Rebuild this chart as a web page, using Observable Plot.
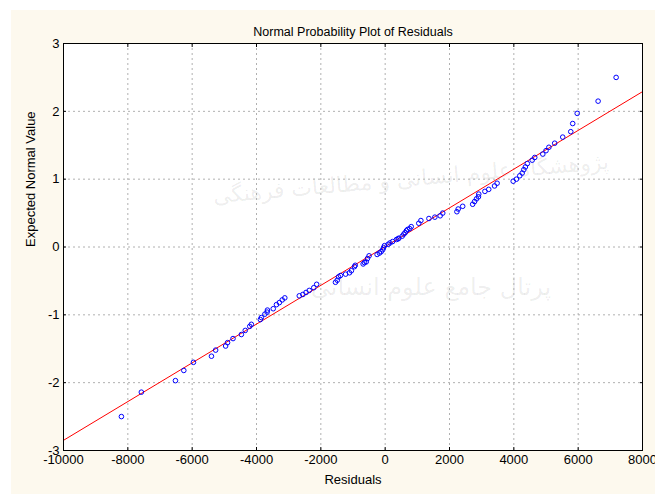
<!DOCTYPE html>
<html>
<head>
<meta charset="utf-8">
<script src="https://cdn.jsdelivr.net/npm/d3@7"></script>
<script src="https://cdn.jsdelivr.net/npm/@observablehq/plot@0.6"></script>
<style>
  html, body { margin: 0; padding: 0; background: #ffffff; }
  #wrap { position: absolute; left: 0; top: 0; width: 655px; height: 494px; overflow: hidden; }
  #cream { position: absolute; left: 11px; top: 10px; width: 644px; height: 484px; background: #fdf9ee; }
  #chart { position: absolute; left: 0; top: 0; }
  #chart svg { font-family: "Liberation Sans", Arial, sans-serif; }
</style>
</head>
<body>
<div id="wrap"><div id="cream"></div><div id="chart"></div></div>
<script>
// Residuals (x) and expected normal values (y)
const residuals = [
  -8200, -7580, -6520, -6260, -5960, -5400, -5270, -4960, -4900, -4730,
  -4470, -4350, -4210, -4160, -3880, -3850, -3740, -3670, -3660, -3480,
  -3380, -3290, -3200, -3120, -2670, -2560, -2460, -2360, -2220, -2130,
  -1545, -1490, -1450, -1390, -1230, -1110, -1050, -955, -930, -685,
  -645, -590, -550, -500, -250, -180, -125, -75, -50, -20,
  95, 150, 230, 350, 400, 425, 530, 580, 620, 660,
  700, 765, 810, 1045, 1110, 1360, 1545, 1710, 1790, 2230,
  2270, 2410, 2720, 2780, 2840, 2900, 2910, 3100, 3220, 3400,
  3480, 3980, 4080, 4185, 4260, 4310, 4360, 4420, 4570, 4650,
  4900, 5000, 5090, 5270, 5520, 5770, 5830, 5970, 6620, 7180
];
const expected = [
  -2.50, -2.14, -1.97, -1.82, -1.70, -1.61, -1.52, -1.46, -1.41, -1.35,
  -1.29, -1.23, -1.17, -1.14, -1.07, -1.04, -0.99, -0.96, -0.93, -0.91,
  -0.85, -0.82, -0.78, -0.75, -0.72, -0.70, -0.67, -0.64, -0.60, -0.55,
  -0.52, -0.49, -0.44, -0.42, -0.40, -0.38, -0.35, -0.29, -0.27, -0.25,
  -0.23, -0.22, -0.17, -0.13, -0.11, -0.09, -0.07, -0.04, -0.01, 0.02,
  0.04, 0.06, 0.08, 0.11, 0.12, 0.13, 0.16, 0.19, 0.21, 0.24,
  0.26, 0.27, 0.30, 0.35, 0.39, 0.42, 0.44, 0.46, 0.50, 0.52,
  0.56, 0.60, 0.63, 0.67, 0.71, 0.74, 0.78, 0.82, 0.85, 0.90,
  0.94, 0.97, 1.00, 1.05, 1.09, 1.14, 1.18, 1.23, 1.28, 1.32,
  1.37, 1.42, 1.47, 1.53, 1.62, 1.70, 1.82, 1.97, 2.15, 2.50
];
// Fitted reference line, end points read at the frame edges
const lineX = [-10000, 8000];
const lineY = [-2.85, 2.29];

const xTicks = [-10000, -8000, -6000, -4000, -2000, 0, 2000, 4000, 6000, 8000];
const yTicks = [-3, -2, -1, 0, 1, 2, 3];

const titleText = "Normal Probability Plot of Residuals";
const xLabel = "Residuals";
const yLabel = "Expected Normal Value";
const watermark1 = "پژوهشگاه علوم انسانی و مطالعات فرهنگی";
const watermark2 = "پرتال جامع علوم انسانی";

const points = residuals.map((r, i) => ({r, e: expected[i]}));
const fit = lineX.map((x, i) => ({x, y: lineY[i]}));
const plain = d => String(d);
const none = () => "";

const plot = Plot.plot({
  width: 655,
  height: 494,
  marginLeft: 63,
  marginRight: 13,
  marginTop: 43,
  marginBottom: 44,
  style: {background: "transparent", fontSize: "13px", fontFamily: "'Liberation Sans', Arial, sans-serif", color: "#000"},
  x: {domain: [-10000, 8000]},
  y: {domain: [-3, 3]},
  marks: [
    Plot.frame({fill: "#ffffff", stroke: "none"}),
    Plot.text([watermark1], {frameAnchor: "middle", dx: 58, dy: -68, text: d => d, fontSize: 22, fill: "#000", fillOpacity: 0.08, fontFamily: "'DejaVu Sans', sans-serif", rotate: -5}),
    Plot.text([watermark2], {frameAnchor: "middle", dx: 78, dy: 40, text: d => d, fontSize: 24, fill: "#000", fillOpacity: 0.08, fontFamily: "'DejaVu Sans', sans-serif"}),
    Plot.gridX(xTicks.slice(1, -1), {stroke: "#b0b0b0", strokeOpacity: 1, strokeDasharray: "2,3", strokeWidth: 1}),
    Plot.gridY(yTicks.slice(1, -1), {stroke: "#b0b0b0", strokeOpacity: 1, strokeDasharray: "2,3", strokeWidth: 1}),
    Plot.axisX(xTicks, {tickSize: -3, tickPadding: 7, fontSize: 13, tickFormat: plain, label: null, stroke: "#000"}),
    Plot.axisX(xTicks, {anchor: "top", tickSize: -3, tickFormat: none, label: null, stroke: "#000"}),
    Plot.axisY(yTicks, {tickSize: -3, tickPadding: 7, fontSize: 13, tickFormat: plain, label: null, stroke: "#000"}),
    Plot.axisY(yTicks, {anchor: "right", tickSize: -3, tickFormat: none, label: null, stroke: "#000"}),
    Plot.line(fit, {x: "x", y: "y", stroke: "#ff0000", strokeWidth: 1}),
    Plot.dot(points, {x: "r", y: "e", r: 2.3, stroke: "#0000ff", strokeWidth: 1, fill: "none"}),
    Plot.frame({stroke: "#000", strokeWidth: 1}),
    Plot.text([titleText], {frameAnchor: "top", dy: -16, text: d => d, fontSize: 12.5, fill: "#000"}),
    Plot.text([xLabel], {frameAnchor: "bottom", dy: 33, text: d => d, fontSize: 13, fill: "#000"}),
    Plot.text([yLabel], {frameAnchor: "left", dx: -33, text: d => d, fontSize: 13, fill: "#000", rotate: -90})
  ]
});
document.getElementById("chart").appendChild(plot);
</script>
</body>
</html>
